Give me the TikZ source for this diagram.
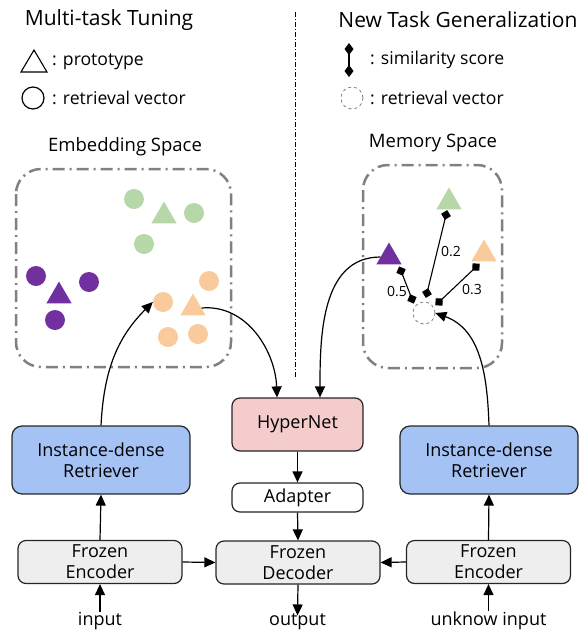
\documentclass[tikz,border=0pt]{standalone}
\usepackage{fontspec}
\setmainfont{Open Sans}
\usetikzlibrary{arrows.meta,shapes.geometric}

\definecolor{vpurple}{HTML}{7030A0}
\definecolor{vgreen}{HTML}{B6D7A8}
\definecolor{vorange}{HTML}{F9CB9C}
\definecolor{retblue}{HTML}{A4C2F4}
\definecolor{hypink}{HTML}{F4CCCC}
\definecolor{frozgray}{HTML}{EEEEEE}
\definecolor{spacegray}{HTML}{808080}

\tikzset{
  box/.style={draw=black!85, line width=1.2pt, rounded corners=8pt, align=center,
    inner sep=0pt, font=\fontsize{18}{21}\selectfont},
  retr/.style={box, fill=retblue, rounded corners=10pt, minimum width=178pt, minimum height=68pt},
  froz/.style={box, fill=frozgray, minimum width=164pt, minimum height=43pt},
  hyper/.style={box, fill=hypink, minimum width=131pt, minimum height=53pt},
  adapt/.style={box, fill=white, minimum width=131pt, minimum height=29pt},
  io/.style={inner sep=0pt, anchor=base, font=\fontsize{18}{20}\selectfont},
  flow/.style={line width=1.2pt, -{Triangle[length=11pt,width=10pt]}},
  space/.style={draw=spacegray, line width=2.5pt, rounded corners=25pt,
    dash pattern=on 12pt off 5pt on 2pt off 5pt},
  vec/.style={circle, inner sep=0pt, minimum size=20pt},
  proto/.style={regular polygon, regular polygon sides=3, inner sep=0pt, minimum size=29pt},
  simline/.style={line width=1.1pt, {Diamond[length=10pt,width=10pt]}-{Diamond[length=10pt,width=10pt]}},
  score/.style={inner sep=0pt, font=\fontsize{14}{16}\selectfont},
  title/.style={inner sep=0pt, font=\fontsize{21}{25}\selectfont},
  legend/.style={inner sep=0pt, anchor=west, font=\fontsize{17.6}{20}\selectfont},
  spacelabel/.style={inner sep=0pt, font=\fontsize{18.5}{21}\selectfont},
}

\begin{document}
\begin{tikzpicture}[x=1pt,y=1pt]
\useasboundingbox (0,0) rectangle (579,-630);

% ---- headings and legends ----
\node[title] (t1) at (109,-20) {Multi-task Tuning};
\node[title] (t2) at (458,-20) {New Task Generalization};

\draw[line width=1.1pt] (21,-72) -- (47,-72) -- (34,-50) -- cycle;
\node[legend] (l1) at (52,-62) {: prototype};
\node[draw, line width=1.2pt, circle, inner sep=0pt, minimum size=22pt] (lc) at (33,-98) {};
\node[legend] (l2) at (52,-98) {: retrieval vector};

\coordinate (sa) at (349,-43);
\coordinate (sb) at (349,-77);
\draw[line width=1.1pt, {Diamond[length=12pt,width=9pt]}-{Diamond[length=12pt,width=9pt]}] (sa) -- (sb);
\node[legend] (l3) at (370,-60) {: similarity score};
\node[draw=spacegray, dashed, line width=0.8pt, circle, inner sep=0pt, minimum size=22pt] (ldc) at (352,-98) {};
\node[legend] (l4) at (370,-98) {: retrieval vector};

% ---- separator ----
\draw[line width=1pt, dash pattern=on 5pt off 2pt on 1pt off 2pt] (295,-12) -- (295,-379);

% ---- embedding space ----
\node[spacelabel] (es) at (125,-147) {Embedding Space};
\draw[space] (16,-169) rectangle (231,-367);

\node[vec, fill=vgreen] (g1) at (134,-199) {};
\node[vec, fill=vgreen] (g2) at (194,-213) {};
\node[vec, fill=vgreen] (g3) at (144,-244) {};
\node[proto, fill=vgreen] (gt) at (164,-216) {};

\node[vec, fill=vpurple] (p1) at (36,-276) {};
\node[vec, fill=vpurple] (p2) at (89,-282) {};
\node[vec, fill=vpurple] (p3) at (55,-320) {};
\node[proto, fill=vpurple] (pt) at (59,-296) {};

\node[vec, fill=vorange] (o1) at (209,-281) {};
\node[vec, fill=vorange] (o2) at (163,-302) {};
\node[vec, fill=vorange] (o3) at (198,-334) {};
\node[vec, fill=vorange] (o4) at (168,-337) {};
\node[proto, fill=vorange] (ot) at (193,-308) {};

% ---- memory space ----
\node[spacelabel] (ms) at (433,-143) {Memory Space};
\draw[space] (363,-165) rectangle (502,-368);

\node[proto, fill=vgreen] (mg) at (449,-202) {};
\node[proto, fill=vpurple] (mp) at (389,-257) {};
\node[proto, fill=vorange] (mo) at (484,-254) {};
\node[draw=spacegray, dashed, line width=0.8pt, circle, inner sep=0pt, minimum size=22pt] (q) at (424,-313) {};

\coordinate (s1a) at (399.2,-266.4);
\coordinate (s1b) at (413.8,-303.6);
\coordinate (s2a) at (447.2,-210.1);
\coordinate (s2b) at (425.8,-297.9);
\coordinate (s3a) at (479.6,-263.6);
\coordinate (s3b) at (435.4,-305.4);
\draw[simline] (s1a) -- (s1b);
\draw[simline] (s2a) -- (s2b);
\draw[simline] (s3a) -- (s3b);
\node[score] (n1) at (397,-292) {0.5};
\node[score] (n2) at (451,-252) {0.2};
\node[score] (n3) at (472,-290) {0.3};

% ---- modules ----
\node[retr] (lr) at (101,-460) {Instance-dense\\Retriever};
\node[froz] (le) at (100,-562) {Frozen\\Encoder};
\node[hyper] (hn) at (297.5,-424.5) {HyperNet};
\node[adapt] (ad) at (297.5,-497.5) {Adapter};
\node[froz] (dec) at (298,-562.5) {Frozen\\Decoder};
\node[retr] (rr) at (489,-460) {Instance-dense\\Retriever};
\node[froz] (re) at (488.5,-562) {Frozen\\Encoder};

\node[io] (in) at (100,-625.5) {input};
\node[io] (out) at (297.5,-625.5) {output};
\node[io] (uin) at (488.5,-625) {unknow input};

% ---- connectors ----
\draw[flow] (in.north) -- (le.south);
\draw[flow] (le.north) -- (lr.south);
\draw[flow] (le.east) -- (dec.west);
\draw[flow] (uin.north) -- (re.south);
\draw[flow] (re.north) -- (rr.south);
\draw[flow] (re.west) -- (dec.east);
\draw[flow] (hn.south) -- (ad.north);
\draw[flow] (ad.south) -- (dec.north);
\draw[flow] (dec.south) -- ([yshift=-2pt]out.north);

\draw[flow] (lr.north) to[out=87, in=225] (o2.west);
\draw[flow] (ot.east) to[out=5, in=92] ([xshift=-20.5pt]hn.north);
\draw[flow] (mp.west) to[out=180, in=90] ([xshift=22.5pt]hn.north);
\draw[flow] (rr.north) to[out=92, in=-20] (q.east);
\end{tikzpicture}
\end{document}
